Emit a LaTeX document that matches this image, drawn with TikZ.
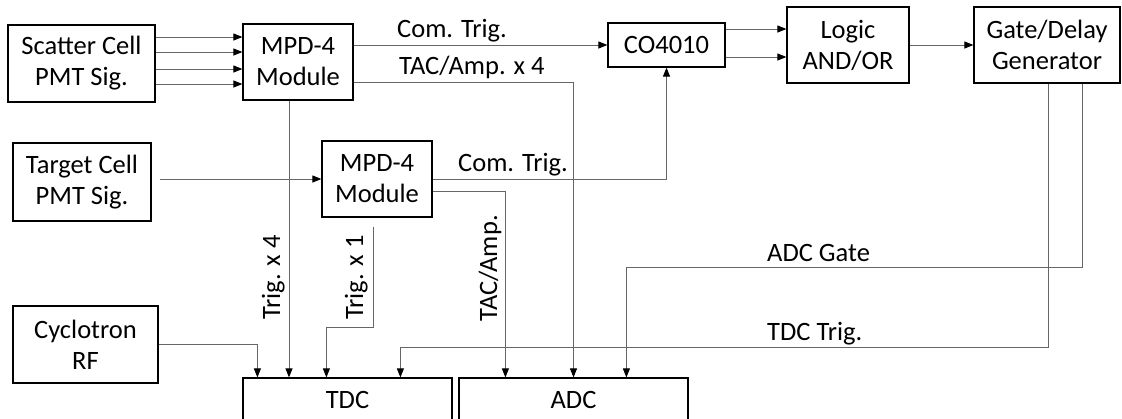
\documentclass[tikz,border=0pt]{standalone}
\usepackage{fontspec}
\setmainfont{Carlito}
\usetikzlibrary{arrows.meta,calc}
\newcommand{\diagfont}{\fontsize{26.5pt}{31pt}\selectfont}
\begin{document}
\begin{tikzpicture}[x=1pt,y=-1pt,
  box/.style={draw=black,line width=1.2pt,inner sep=0pt,align=center,font=\diagfont},
  conn/.style={draw=black!60,line width=1pt,-{Triangle[length=9pt,width=7pt,color=black]}},
  lbl/.style={inner sep=0pt,anchor=base west,font=\diagfont}]
\useasboundingbox (0,0) rectangle (1122,418);
\clip (0,0) rectangle (1122,418);

% boxes
\node[box,minimum width=147pt,minimum height=77pt] (sc) at (81.5,63.5) {Scatter Cell\\PMT Sig.};
\node[box,minimum width=110pt,minimum height=76pt] (m1) at (298,62) {MPD-4\\Module};
\node[box,minimum width=117pt,minimum height=44pt] (co) at (666.5,45) {CO4010};
\node[box,minimum width=122pt,minimum height=76pt] (lg) at (848,45) {Logic\\AND/OR};
\node[box,minimum width=146pt,minimum height=76pt] (gd) at (1047,45) {Gate/Delay\\Generator};
\node[box,minimum width=138pt,minimum height=78pt] (tc) at (82,182) {Target Cell\\PMT Sig.};
\node[box,minimum width=110pt,minimum height=76pt] (m2) at (377,179) {MPD-4\\Module};
\node[box,minimum width=145pt,minimum height=77pt] (cy) at (85.5,344.5) {Cyclotron\\RF};
\node[box,minimum width=209pt,minimum height=44pt] (tdc) at (347.5,400) {TDC};
\node[box,minimum width=229pt,minimum height=44pt] (adc) at (573.5,400) {ADC};

% helper coordinates
\coordinate (t4) at ($(m1.south)+(-9,0)$);
\coordinate (t1) at ($(m2.south)+(-4,9)$);
\coordinate (t1b) at ($(tdc.north west)+(84,0)$);
\coordinate (cyin) at ($(tdc.north west)+(15,0)$);
\coordinate (tacin) at ($(adc.north west)+(47,0)$);
\coordinate (g1) at ($(gd.south)+(35,0)$);
\coordinate (g2) at ($(gd.south)+(1,0)$);
\coordinate (gain) at ($(adc.north west)+(168,0)$);
\coordinate (ttin) at ($(tdc.north west)+(158,0)$);

% connectors
\foreach \yy in {37,52,69,84} \draw[conn] (sc.east |- 0,\yy) -- (m1.west |- 0,\yy);
\draw[conn] (m1.east |- co.west) -- (co.west);
\draw[conn] (m1.east |- 0,82) -| (adc.north);
\foreach \yy in {29,57} \draw[conn] (co.east |- 0,\yy) -- (lg.west |- 0,\yy);
\draw[conn] (lg.east) -- (gd.west);
\draw[conn,shorten <=8pt] (tc.east |- m2.west) -- (m2.west);
\draw[conn] (m2.east) -| (co.south);
\draw[conn] (m2.east |- 0,191) -| (tacin);
\draw[conn] (t4) -- (t4 |- tdc.north);
\draw[conn] (t1) -- (t1 |- 0,327) -| (t1b);
\draw[conn] (cy.east) -| (cyin);
\draw[conn] (g1) -- (g1 |- 0,267) -| (gain);
\draw[conn] (g2) -- (g2 |- 0,347) -| (ttin);

% labels
\node[lbl] (l1) at (397,37) {Com. Trig.};
\node[lbl] (l2) at (399,74) {TAC/Amp. x 4};
\node[lbl] (l3) at (458,171) {Com. Trig.};
\node[lbl] (l4) at (767,261) {ADC Gate};
\node[lbl] (l5) at (767,340) {TDC Trig.};
\node[lbl,rotate=90] (l6) at (280,320) {Trig. x 4};
\node[lbl,rotate=90] (l7) at (363,320) {Trig. x 1};
\node[lbl,rotate=90] (l8) at (497,322) {TAC/Amp.};
\end{tikzpicture}
\end{document}
